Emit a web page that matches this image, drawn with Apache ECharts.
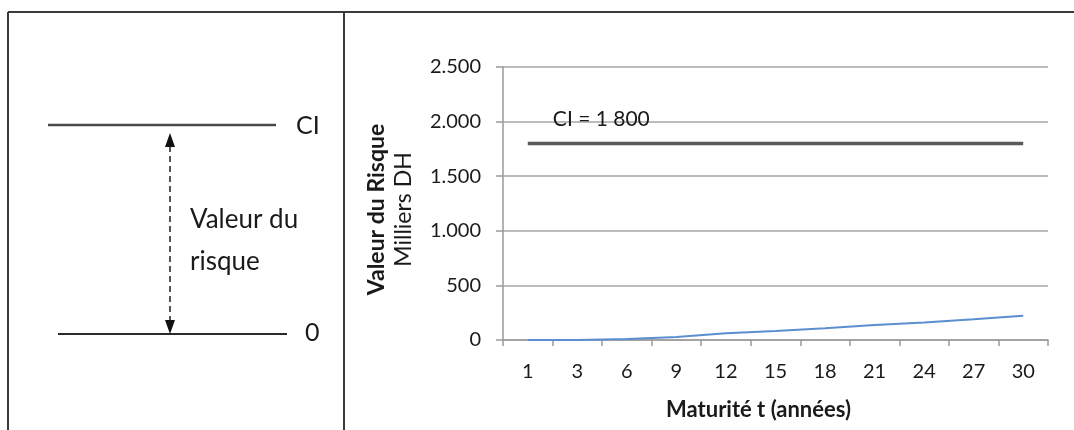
<!DOCTYPE html>
<html><head><meta charset="utf-8">
<script src="https://cdn.jsdelivr.net/npm/echarts@6/dist/echarts.min.js"></script>
<style>html,body{margin:0;padding:0;background:#fff}#c{width:1074px;height:430px}</style>
</head><body><div id="c"></div>
<script>
const categories = ['1','3','6','9','12','15','18','21','24','27','30'];
const riskValues = [0, 0, 10, 28, 62, 82, 108, 138, 160, 190, 222];
const ciValue = 1800;
const ciValues = categories.map(() => ciValue);
const yTicks = {min: 0, max: 2500, interval: 500};
const ciLabel = 'CI = 1 800';
const xTitle = 'Maturité t (années)';
const yTitle = 'Valeur du Risque';
const yUnit = 'Milliers DH';

const FONT = 'Lato, "Open Sans", sans-serif';
const TXT = '#1a1a1a';
const fmt = v => String(v).replace(/\B(?=(\d{3})+(?!\d))/g, '.');

const chart = echarts.init(document.getElementById('c'), null, {renderer: 'canvas'});
chart.setOption({
  animation: false,
  backgroundColor: '#fff',
  grid: {left: 503, right: 26, top: 67, bottom: 90},
  xAxis: {
    type: 'category', data: categories, boundaryGap: true,
    axisLine: {lineStyle: {color: '#9a9a9a', width: 1.5}},
    axisTick: {show: true, interval: 0, length: 6, lineStyle: {color: '#9a9a9a', width: 1.5}},
    axisLabel: {interval: 0, margin: 22, color: TXT, fontSize: 20, fontFamily: FONT},
    name: xTitle, nameLocation: 'middle', nameGap: 59,
    nameTextStyle: {fontWeight: 'bold', fontSize: 22, color: TXT, fontFamily: FONT, padding: [0, 34, 0, 0]}
  },
  yAxis: {
    type: 'value', min: yTicks.min, max: yTicks.max, interval: yTicks.interval,
    axisLine: {show: true, lineStyle: {color: '#9a9a9a', width: 1.5}},
    axisTick: {show: true, length: 7, lineStyle: {color: '#9a9a9a', width: 1.5}},
    splitLine: {lineStyle: {color: '#a6a6a6', width: 1.5}},
    axisLabel: {margin: 22, color: TXT, fontSize: 20, fontFamily: FONT, formatter: fmt},
    name: '{b|' + yTitle + '}\n{n|' + yUnit + '}',
    nameLocation: 'middle', nameRotate: 90, nameGap: 86,
    nameTextStyle: {
      fontFamily: FONT, color: TXT, lineHeight: 27, padding: [0, 12, 0, 0],
      rich: {
        b: {fontWeight: 'bold', fontSize: 23, fontFamily: FONT, color: TXT, lineHeight: 27},
        n: {fontSize: 23, fontFamily: FONT, color: TXT, lineHeight: 27}
      }
    }
  },
  series: [
    {
      name: 'CI', type: 'line', data: ciValues, symbol: 'none',
      lineStyle: {color: '#5a5a5a', width: 3.5}, silent: true,
      markPoint: {
        symbol: 'circle', symbolSize: 1, silent: true,
        itemStyle: {color: 'transparent'},
        label: {show: true, position: 'top', distance: 5, offset: [24, -8],
          formatter: ciLabel, color: TXT, fontSize: 21, fontFamily: FONT},
        data: [{coord: [categories[1], ciValue]}]
      }
    },
    {
      name: 'Valeur du Risque', type: 'line', data: riskValues, symbol: 'none',
      lineStyle: {color: '#5b8fd0', width: 2}, silent: true
    }
  ],
  graphic: [
    {type: 'line', shape: {x1: 8, y1: 12, x2: 1074, y2: 12}, style: {stroke: '#3a3a3a', lineWidth: 2}},
    {type: 'line', shape: {x1: 8, y1: 12, x2: 8, y2: 430}, style: {stroke: '#3a3a3a', lineWidth: 2}},
    {type: 'line', shape: {x1: 344, y1: 12, x2: 344, y2: 430}, style: {stroke: '#3a3a3a', lineWidth: 2}},
    {type: 'line', shape: {x1: 48, y1: 125, x2: 276, y2: 125}, style: {stroke: '#4a4a4a', lineWidth: 2.5}},
    {type: 'line', shape: {x1: 58, y1: 334, x2: 287, y2: 334}, style: {stroke: '#2a2a2a', lineWidth: 1.8}},
    {type: 'text', x: 296, y: 126, style: {text: 'CI', fontSize: 25, fontFamily: FONT, fill: TXT, verticalAlign: 'middle'}},
    {type: 'text', x: 305, y: 333, style: {text: '0', fontSize: 25, fontFamily: FONT, fill: TXT, verticalAlign: 'middle'}},
    {type: 'line', shape: {x1: 170, y1: 146, x2: 170, y2: 322}, style: {stroke: '#1f1f1f', lineWidth: 1.5, lineDash: [6, 4]}},
    {type: 'polygon', shape: {points: [[170, 133], [165, 147], [175, 147]]}, style: {fill: '#111'}},
    {type: 'polygon', shape: {points: [[170, 334], [165, 320], [175, 320]]}, style: {fill: '#111'}},
    {type: 'text', x: 190, y: 220, style: {text: 'Valeur du', fontSize: 26, fontFamily: FONT, fill: TXT, verticalAlign: 'middle'}},
    {type: 'text', x: 190, y: 262, style: {text: 'risque', fontSize: 26, fontFamily: FONT, fill: TXT, verticalAlign: 'middle'}}
  ]
});
</script></body></html>
